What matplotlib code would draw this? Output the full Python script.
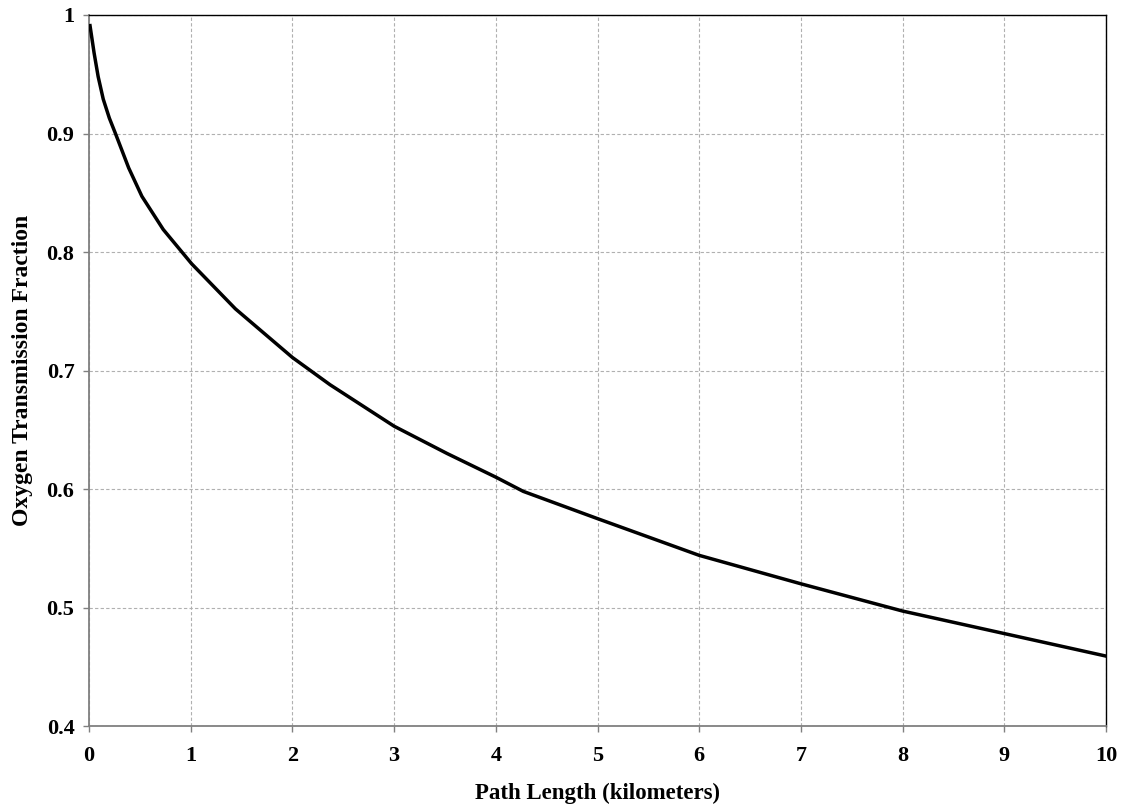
#!/usr/bin/env python3
import matplotlib
matplotlib.use('Agg')
import matplotlib.pyplot as plt

# path length (km) and oxygen transmission fraction
path_km = [0.01, 0.05, 0.09, 0.14, 0.20, 0.26, 0.39, 0.52, 0.73, 1.01, 1.44, 2.0,
           2.37, 3.0, 3.52, 4.0, 4.27, 5.0, 6.0, 7.0, 8.0, 9.0, 10.0]
transmission = [0.991, 0.968, 0.948, 0.929, 0.913, 0.900, 0.871, 0.847, 0.819,
                0.790, 0.752, 0.711, 0.688, 0.653, 0.630, 0.610, 0.598, 0.575,
                0.544, 0.520, 0.497, 0.478, 0.459]

x_ticks = list(range(0, 11))
y_ticks = [0.4, 0.5, 0.6, 0.7, 0.8, 0.9, 1.0]
y_labels = ['0.4', '0.5', '0.6', '0.7', '0.8', '0.9', '1']

plt.rcParams['font.family'] = ['Liberation Serif', 'DejaVu Serif']
plt.rcParams['font.weight'] = 'bold'

fig = plt.figure(figsize=(11.21, 8.08), dpi=100)
ax = fig.add_axes([89 / 1121, 1 - 726 / 808, (1106 - 89) / 1121, (726 - 15) / 808])

ax.plot(path_km, transmission, color='black', linewidth=2.5, solid_joinstyle='round', zorder=3)

ax.set_xlim(0, 10)
ax.set_ylim(0.4, 1.0)
ax.set_xticks(x_ticks)
ax.set_xticklabels([str(t) for t in x_ticks], fontsize=16, fontweight='bold')
ax.set_yticks(y_ticks)
ax.set_yticklabels(y_labels, fontsize=16, fontweight='bold')

ax.grid(True, color='#b0b0b0', linestyle=(0, (3, 2)), linewidth=0.8)
ax.set_axisbelow(True)

for side in ['left', 'bottom']:
    ax.spines[side].set_color('#808080')
    ax.spines[side].set_linewidth(1.3)
for side in ['top', 'right']:
    ax.spines[side].set_color('black')
    ax.spines[side].set_linewidth(1.0)
ax.tick_params(direction='out', length=4.5, color='#808080', width=1)
ax.tick_params(axis='x', pad=10)
ax.tick_params(axis='y', pad=6)

ax.set_xlabel('Path Length (kilometers)', fontsize=16.5, fontweight='bold', labelpad=12)
ax.set_ylabel('Oxygen Transmission Fraction', fontsize=17, fontweight='bold', labelpad=10)

plt.savefig('out.png', dpi=100)
print("Saved: out.png")
